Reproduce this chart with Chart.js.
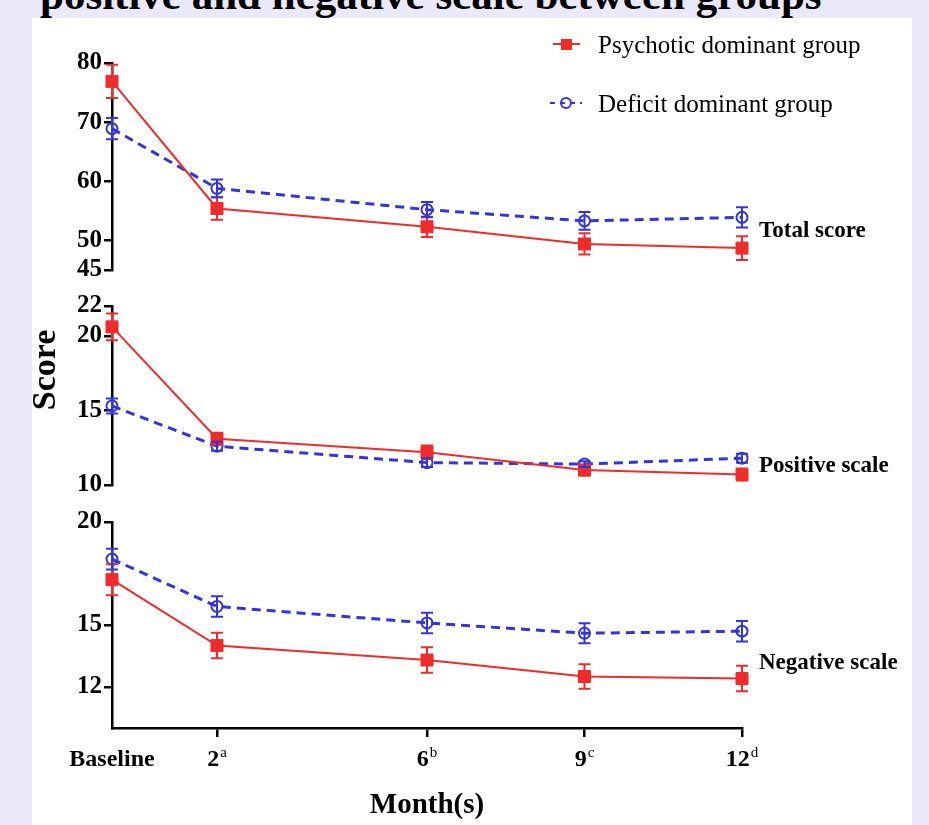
<!DOCTYPE html>
<html>
<head>
<meta charset="utf-8">
<script src="https://cdn.jsdelivr.net/npm/chart.js@4.4.0/dist/chart.umd.min.js"></script>
<style>
  html, body { margin: 0; padding: 0; }
  body { width: 929px; height: 825px; overflow: hidden; background: #e9e9f9; position: relative; font-family: "Liberation Serif", "Times New Roman", serif; }
  #title { position: absolute; left: 40px; top: -27px; font-size: 43px; line-height: 43px; font-weight: bold; white-space: nowrap; color: #000; }
  #panel { position: absolute; left: 32px; top: 18px; width: 880px; height: 807px; background: #fff; }
  #wrap { position: absolute; left: 0; top: 0; width: 929px; height: 825px; }
</style>
</head>
<body>
<div id="title">positive and negative scale between groups</div>
<div id="panel"></div>
<div id="wrap"><canvas id="chart" width="929" height="825"></canvas></div>
<script>
// x axis: months after baseline
var months = [0, 2, 6, 9, 12];
var monthLabels = ['Baseline', '2', '6', '9', '12'];
var monthSup = ['', 'a', 'b', 'c', 'd'];

// Total score (mean, error)
var totalPsychotic = [76.9, 55.4, 52.3, 49.4, 48.7];
var totalPsychoticErr = [2.8, 1.9, 1.7, 1.8, 2.0];
var totalDeficit = [68.9, 58.8, 55.2, 53.3, 53.9];
var totalDeficitErr = [1.8, 1.5, 1.3, 1.5, 1.7];

// Positive scale
var positivePsychotic = [20.6, 13.1, 12.2, 11.0, 10.7];
var positivePsychoticErr = [0.9, 0.4, 0.45, 0.35, 0.4];
var positiveDeficit = [15.3, 12.6, 11.5, 11.4, 11.8];
var positiveDeficitErr = [0.5, 0.3, 0.3, 0.2, 0.3];

// Negative scale
var negativePsychotic = [17.2, 14.0, 13.3, 12.5, 12.4];
var negativePsychoticErr = [0.75, 0.62, 0.62, 0.6, 0.62];
var negativeDeficit = [18.2, 15.9, 15.1, 14.6, 14.7];
var negativeDeficitErr = [0.5, 0.5, 0.5, 0.48, 0.5];

var totalTicks = [45, 50, 60, 70, 80];
var positiveTicks = [10, 15, 20, 22];
var negativeTicks = [12, 15, 20];

var redColor = '#ef2b2b';
var blueColor = '#3434dd';
var serif = '"Liberation Serif", "Times New Roman", serif';

function toPoints(values) {
  return values.map(function(v, i) { return { x: months[i], y: v }; });
}

function psychoticSet(values, errors, axis) {
  return {
    label: 'Psychotic dominant group',
    data: toPoints(values),
    errors: errors,
    yAxisID: axis,
    borderColor: redColor,
    backgroundColor: redColor,
    borderWidth: 2,
    pointStyle: 'rect',
    pointRadius: 8.5,
    pointBorderWidth: 1,
    tension: 0,
    clip: false
  };
}

function deficitSet(values, errors, axis) {
  return {
    label: 'Deficit dominant group',
    data: toPoints(values),
    errors: errors,
    yAxisID: axis,
    borderColor: blueColor,
    backgroundColor: 'rgba(0,0,0,0)',
    borderWidth: 3,
    borderDash: [9, 6],
    pointStyle: 'circle',
    pointRadius: 5.5,
    pointBorderWidth: 2,
    tension: 0,
    clip: false
  };
}

function fixWidth(scale) { scale.width = 112; }

function valueAxis(min, max, ticks, weight, order) {
  return {
    type: 'linear',
    position: 'left',
    stack: 'scores',
    stackWeight: weight,
    weight: order,
    min: min,
    max: max,
    afterFit: fixWidth,
    afterBuildTicks: function(scale) {
      scale.ticks = ticks.map(function(v) { return { value: v }; });
    },
    border: { display: true, color: '#000', width: 2.5 },
    grid: { drawOnChartArea: false, drawTicks: true, tickLength: 8, color: '#000', lineWidth: 2.5 },
    ticks: { color: '#000', padding: 2, autoSkip: false, font: { family: serif, size: 25, weight: 'bold' } }
  };
}

function gapAxis(weight, order) {
  return {
    type: 'linear',
    position: 'left',
    stack: 'scores',
    stackWeight: weight,
    weight: order,
    min: 0,
    max: 1,
    afterFit: fixWidth,
    border: { display: false },
    grid: { display: false },
    ticks: { display: false }
  };
}

// error bars drawn through the y scales
var errorBars = {
  id: 'errorBars',
  afterDatasetsDraw: function(chart) {
    var ctx = chart.ctx;
    chart.data.datasets.forEach(function(ds, i) {
      var meta = chart.getDatasetMeta(i);
      var yScale = chart.scales[ds.yAxisID];
      ctx.save();
      ctx.strokeStyle = ds.borderColor;
      ctx.lineWidth = 2;
      ds.data.forEach(function(p, j) {
        var x = meta.data[j].x;
        var top = yScale.getPixelForValue(p.y + ds.errors[j]);
        var bot = yScale.getPixelForValue(p.y - ds.errors[j]);
        ctx.beginPath();
        ctx.moveTo(x, top); ctx.lineTo(x, bot);
        ctx.moveTo(x - 6, top); ctx.lineTo(x + 6, top);
        ctx.moveTo(x - 6, bot); ctx.lineTo(x + 6, bot);
        ctx.stroke();
      });
      ctx.restore();
    });
  }
};

var extraText = {
  id: 'extraText',
  afterDraw: function(chart) {
    var ctx = chart.ctx;
    var area = chart.chartArea;
    var xs = chart.scales.x;
    ctx.save();
    ctx.fillStyle = '#000';

    // month labels with superscripts
    monthLabels.forEach(function(lab, i) {
      ctx.font = 'bold 24px ' + serif;
      var w1 = ctx.measureText(lab).width;
      ctx.font = '15px ' + serif;
      var w2 = monthSup[i] ? ctx.measureText(monthSup[i]).width + 1 : 0;
      var x0 = xs.getPixelForValue(months[i]) - (w1 + w2) / 2;
      ctx.textAlign = 'left';
      ctx.textBaseline = 'alphabetic';
      ctx.font = 'bold 24px ' + serif;
      ctx.fillText(lab, x0, 766);
      if (monthSup[i]) {
        ctx.font = '15px ' + serif;
        ctx.fillText(monthSup[i], x0 + w1 + 1, 757);
      }
    });

    // y title
    ctx.save();
    ctx.translate(46, 370);
    ctx.rotate(-Math.PI / 2);
    ctx.textAlign = 'center';
    ctx.textBaseline = 'middle';
    ctx.font = 'bold 34px ' + serif;
    ctx.fillText('Score', 0, 0);
    ctx.restore();

    // panel names
    ctx.font = 'bold 23px ' + serif;
    ctx.textAlign = 'left';
    ctx.textBaseline = 'middle';
    ctx.fillText('Total score', area.right + 17, chart.scales.yTotal.bottom - 39);
    ctx.fillText('Positive scale', area.right + 17, chart.scales.yPositive.bottom - 19);
    ctx.fillText('Negative scale', area.right + 17, chart.scales.yNegative.top + 141);

    // legend
    ctx.font = '25px ' + serif;
    ctx.textBaseline = 'alphabetic';
    ctx.fillText('Psychotic dominant group', 598, 53);
    ctx.fillText('Deficit dominant group', 598, 112);

    ctx.strokeStyle = redColor;
    ctx.fillStyle = redColor;
    ctx.lineWidth = 2;
    ctx.beginPath(); ctx.moveTo(553, 44); ctx.lineTo(580, 44); ctx.stroke();
    ctx.fillRect(561, 39, 11, 11);

    ctx.strokeStyle = blueColor;
    ctx.lineWidth = 2;
    ctx.setLineDash([5, 5]);
    ctx.beginPath(); ctx.moveTo(550, 103); ctx.lineTo(582, 103); ctx.stroke();
    ctx.setLineDash([]);
    ctx.beginPath(); ctx.arc(566, 103, 5, 0, Math.PI * 2); ctx.stroke();
    ctx.restore();
  }
};

var chart = new Chart(document.getElementById('chart'), {
  type: 'line',
  data: {
    datasets: [
      psychoticSet(totalPsychotic, totalPsychoticErr, 'yTotal'),
      deficitSet(totalDeficit, totalDeficitErr, 'yTotal'),
      psychoticSet(positivePsychotic, positivePsychoticErr, 'yPositive'),
      deficitSet(positiveDeficit, positiveDeficitErr, 'yPositive'),
      psychoticSet(negativePsychotic, negativePsychoticErr, 'yNegative'),
      deficitSet(negativeDeficit, negativeDeficitErr, 'yNegative')
    ]
  },
  options: {
    responsive: false,
    animation: false,
    events: [],
    layout: { padding: { left: 0, right: 187, top: 63, bottom: 0 } },
    plugins: { legend: { display: false }, tooltip: { enabled: false } },
    scales: {
      x: {
        type: 'linear',
        position: 'bottom',
        min: 0,
        max: 12,
        afterFit: function(scale) { scale.height = 97; },
        afterBuildTicks: function(scale) {
          scale.ticks = months.map(function(v) { return { value: v }; });
        },
        border: { display: true, color: '#000', width: 2.5 },
        grid: {
          drawOnChartArea: false, drawTicks: true, tickLength: 9, lineWidth: 2.5,
          color: function(c) { return c.tick && c.tick.value === 0 ? 'rgba(0,0,0,0)' : '#000'; }
        },
        ticks: { display: false },
        title: { display: true, text: 'Month(s)', color: '#000', padding: { top: 0, bottom: 2 }, font: { family: serif, size: 29, weight: 'bold' } }
      },
      yTotal: valueAxis(45, 80, totalTicks, 207, 5),
      gap1: gapAxis(36, 4),
      yPositive: valueAxis(10, 22, positiveTicks, 179, 3),
      gap2: gapAxis(37, 2),
      yNegative: valueAxis(10, 20, negativeTicks, 206, 1)
    }
  },
  plugins: [errorBars, extraText]
});
</script>
</body>
</html>
